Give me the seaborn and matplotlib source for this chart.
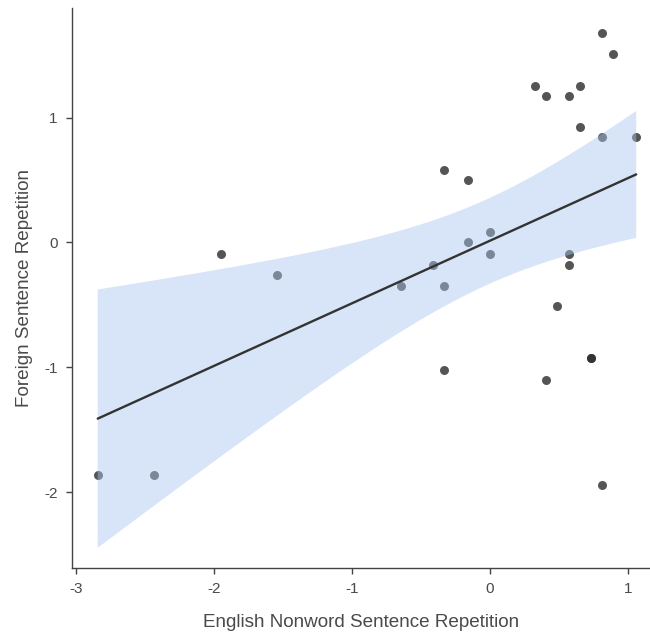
import numpy as np
import pandas as pd
import seaborn as sns
import matplotlib
matplotlib.use("Agg")
import matplotlib.pyplot as plt

# Standardised scores per participant
english_nonword = [-2.84, -2.43, -1.95, -1.54, -0.645, -0.41, -0.33, -0.33, -0.33,
                   -0.16, -0.16, 0.00, 0.00, 0.33, 0.41, 0.41, 0.49, 0.57, 0.57,
                   0.57, 0.65, 0.65, 0.73, 0.73, 0.81, 0.81, 0.81, 0.89, 1.06]
foreign_sentence = [-1.86, -1.86, -0.09, -0.26, -0.35, -0.18, 0.58, -0.35, -1.02,
                    0.50, 0.00, 0.08, -0.09, 1.25, 1.17, -1.10, -0.51, 1.17, -0.09,
                    -0.18, 1.25, 0.92, -0.93, -0.93, 1.68, 0.84, -1.94, 1.51, 0.84]

x_ticks = [-3, -2, -1, 0, 1]
y_ticks = [-2, -1, 0, 1]

df = pd.DataFrame({"english": english_nonword, "foreign": foreign_sentence})

sns.set_theme(style="ticks")
plt.rcParams["font.family"] = ["Liberation Sans", "DejaVu Sans"]

fig = plt.figure(figsize=(6.5, 6.37), dpi=100)
ax = fig.add_axes([0.110, 0.108, 0.890, 0.880])

# Scatter and least-squares line (line kept above the band)
sns.regplot(
    data=df, x="english", y="foreign", ax=ax, ci=None,
    scatter_kws={"s": 42, "color": "#2b2b2b", "alpha": 0.8, "linewidths": 0, "zorder": 2},
    line_kws={"color": "#333333", "linewidth": 1.7, "zorder": 4},
)

# Analytic 95% confidence band of the mean fit, drawn over the points
x = df["english"].to_numpy()
y = df["foreign"].to_numpy()
n = len(x)
slope, intercept = np.polyfit(x, y, 1)
resid = y - (intercept + slope * x)
s = np.sqrt(np.sum(resid ** 2) / (n - 2))
sxx = np.sum((x - x.mean()) ** 2)
t_crit = 2.0518  # t(0.975, df=27)
grid = np.linspace(x.min(), x.max(), 200)
fit = intercept + slope * grid
half = t_crit * s * np.sqrt(1.0 / n + (grid - x.mean()) ** 2 / sxx)
ax.fill_between(grid, fit - half, fit + half, facecolor="#a9c5ee", alpha=0.45,
                edgecolor="none", zorder=3)

ax.set_xlim(-3.03, 1.16)
ax.set_ylim(-2.61, 1.88)
ax.set_xticks(x_ticks)
ax.set_yticks(y_ticks)
ax.set_xticklabels([str(t) for t in x_ticks])
ax.set_yticklabels([str(t) for t in y_ticks])

ax.set_xlabel("English Nonword Sentence Repetition", fontsize=13.6, color="#4a4a4a", labelpad=13)
ax.set_ylabel("Foreign Sentence Repetition", fontsize=13.6, color="#4a4a4a", labelpad=8)

for side in ["top", "right"]:
    ax.spines[side].set_visible(False)
for side in ["left", "bottom"]:
    ax.spines[side].set_color("#444444")
    ax.spines[side].set_linewidth(1.0)

ax.tick_params(axis="both", length=4, width=1.0, color="#444444",
               labelsize=11, labelcolor="#4a4a4a", pad=6)

fig.savefig("out.png", dpi=100)
